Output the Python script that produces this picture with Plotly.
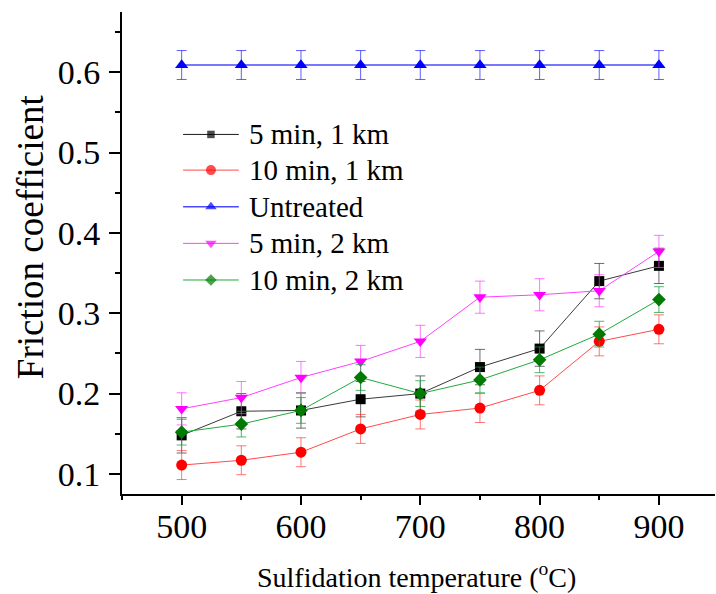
import plotly.graph_objects as go

# Sulfidation temperatures (°C)
temps = [500, 550, 600, 650, 700, 750, 800, 850, 900]

# Mean friction coefficients per treatment
cf_5min_1km = [0.148, 0.178, 0.179, 0.193, 0.200, 0.233, 0.256, 0.340, 0.359]
cf_10min_1km = [0.111, 0.117, 0.127, 0.156, 0.174, 0.182, 0.204, 0.265, 0.280]
cf_untreated = [0.609, 0.609, 0.609, 0.609, 0.609, 0.609, 0.609, 0.609, 0.609]
cf_5min_2km = [0.181, 0.195, 0.220, 0.240, 0.265, 0.320, 0.323, 0.328, 0.377]
cf_10min_2km = [0.152, 0.162, 0.179, 0.220, 0.200, 0.217, 0.242, 0.274, 0.317]

# Standard deviations
sd_5min_1km = [0.022, 0.022, 0.022, 0.022, 0.022, 0.022, 0.022, 0.022, 0.022]
sd_10min_1km = [0.018, 0.018, 0.018, 0.018, 0.018, 0.018, 0.018, 0.018, 0.018]
sd_untreated = [0.018, 0.018, 0.018, 0.018, 0.018, 0.018, 0.018, 0.018, 0.018]
sd_5min_2km = [0.020, 0.020, 0.020, 0.020, 0.020, 0.020, 0.020, 0.020, 0.020]
sd_10min_2km = [0.016, 0.016, 0.016, 0.016, 0.016, 0.016, 0.016, 0.016, 0.016]

series_names = ["5 min, 1 km", "10 min, 1 km", "Untreated", "5 min, 2 km", "10 min, 2 km"]

FONT = "Liberation Serif, Times New Roman, serif"

# name, values, sd, symbol, marker size, legend marker size, marker colour, line colour, error colour, line width
series = [
    (series_names[0], cf_5min_1km, sd_5min_1km, "square", 10, 7.5, "#000000", "#3a3a3a", "rgba(60,60,60,0.75)", 1),
    (series_names[1], cf_10min_1km, sd_10min_1km, "circle", 11, 10, "#ff0000", "#ff4a4a", "rgba(255,60,60,0.7)", 1),
    (series_names[2], cf_untreated, sd_untreated, "triangle-up", 11.5, 10, "#0000ff", "#4a4aff", "rgba(40,40,255,0.75)", 1.5),
    (series_names[3], cf_5min_2km, sd_5min_2km, "triangle-down", 11.5, 10, "#ff00ff", "#ff40ff", "rgba(255,60,255,0.7)", 1),
    (series_names[4], cf_10min_2km, sd_10min_2km, "diamond", 10.5, 9, "#007a00", "#1faa3c", "rgba(20,160,60,0.75)", 1),
]

fig = go.Figure()
for name, vals, sd, sym, msize, _, mcol, lcol, ecol, lw in series:
    fig.add_trace(go.Scatter(
        x=temps, y=vals, name=name, mode="lines+markers", showlegend=False,
        line=dict(color=lcol, width=lw),
        marker=dict(symbol=sym, size=msize, color=mcol, line=dict(width=0)),
        error_y=dict(type="data", array=sd, visible=True, color=ecol, thickness=1, width=5),
    ))

# Legend key drawn on an overlay axis spanning the plot area in [0, 1] units
key_x = [0.103, 0.150, 0.197]
key_rows = [0.746, 0.672, 0.596, 0.520, 0.444]
key_text_x = 0.211
annotations = []
for (name, _, _, sym, _, ksize, mcol, lcol, _, lw), ky in zip(series, key_rows):
    fig.add_trace(go.Scatter(
        x=key_x, y=[ky, ky, ky], mode="lines+markers", showlegend=False,
        xaxis="x2", yaxis="y2", hoverinfo="skip",
        line=dict(color=lcol if name != series_names[0] else "#1a1a1a", width=lw),
        marker=dict(symbol=sym, size=[0, ksize, 0], color=mcol, line=dict(width=0)),
    ))
    annotations.append(dict(
        x=key_text_x, y=ky, xref="x2", yref="y2", text=name, showarrow=False,
        xanchor="left", yanchor="middle",
        font=dict(family=FONT, size=29, color="black"),
    ))

# Axis titles
annotations.append(dict(
    x=0.497, y=-0.128, xref="paper", yref="paper", showarrow=False,
    text="Sulfidation temperature (<sup>o</sup>C)", xanchor="center", yanchor="top",
    font=dict(family=FONT, size=28, color="black"),
))
annotations.append(dict(
    x=-0.155, y=0.533, xref="paper", yref="paper", showarrow=False,
    text="Friction coefficient", textangle=-90, xanchor="center", yanchor="middle",
    font=dict(family=FONT, size=37, color="black"),
))

fig.update_layout(
    width=716, height=594,
    margin=dict(l=122, r=1, t=12, b=100),
    paper_bgcolor="white", plot_bgcolor="white",
    font=dict(family=FONT, color="black"),
    showlegend=False,
    annotations=annotations,
    xaxis2=dict(overlaying="x", range=[0, 1], visible=False, fixedrange=True),
    yaxis2=dict(overlaying="y", range=[0, 1], visible=False, fixedrange=True),
)

fig.layout.xaxis.update(
    range=[450, 947], showgrid=False, zeroline=False,
    showline=True, linecolor="black", linewidth=2, mirror=False,
    tickmode="linear", tick0=500, dtick=100,
    ticks="outside", ticklen=9, tickwidth=2, tickcolor="black",
    minor=dict(tick0=450, dtick=50, ticks="outside", ticklen=4, tickwidth=2, tickcolor="black"),
    tickfont=dict(family=FONT, size=34, color="black"),
    ticklabelstandoff=-8,
)
fig.layout.yaxis.update(
    range=[0.075, 0.675], showgrid=False, zeroline=False,
    showline=True, linecolor="black", linewidth=2, mirror=False,
    tickmode="linear", tick0=0.1, dtick=0.1, tickformat=".1f",
    ticks="outside", ticklen=11, tickwidth=2, tickcolor="black",
    minor=dict(tick0=0.05, dtick=0.05, ticks="outside", ticklen=5, tickwidth=2, tickcolor="black"),
    tickfont=dict(family=FONT, size=34, color="black"),
    ticklabelstandoff=2,
)

fig.write_html("out.html")
